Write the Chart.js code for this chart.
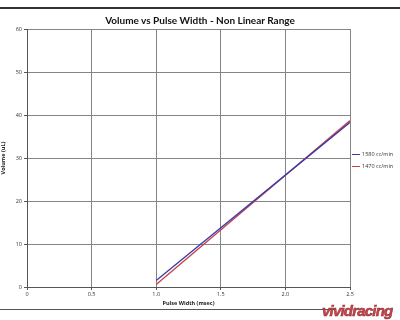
<!DOCTYPE html>
<html><head><meta charset="utf-8">
<script src="https://cdn.jsdelivr.net/npm/chart.js@4/dist/chart.umd.min.js"></script>
<style>
html,body{margin:0;padding:0;background:#fff;}
#wrap{position:relative;width:400px;height:320px;overflow:hidden;background:#fff;font-family:"Open Sans","Liberation Sans",sans-serif;}
#c{position:absolute;left:0;top:0;}
#title{position:absolute;left:0;top:14px;width:400px;text-align:center;font-weight:bold;font-size:10px;color:#111;font-family:Lato,"Open Sans",sans-serif;}
.rule{position:absolute;left:0;background:#333;}
#leg{position:absolute;left:352px;top:148px;font-size:5.5px;color:#333;line-height:12px;}
#leg span.l{display:inline-block;width:8px;height:1.5px;vertical-align:middle;margin-right:2px;}
#logo{position:absolute;left:322px;top:302px;font-size:15px;font-weight:bold;font-style:italic;color:#c8444a;letter-spacing:-0.8px;font-family:"Liberation Sans",sans-serif;-webkit-text-stroke:0.5px #8a2a30;}
</style></head>
<body><div id="wrap">
<canvas id="c" width="400" height="320"></canvas>
<div class="rule" style="top:7px;width:400px;height:1.5px;"></div>
<div class="rule" style="top:309px;width:335px;height:1px;background:#555;"></div>
<div id="title">Volume vs Pulse Width - Non Linear Range</div>
<div id="leg"></div>
<div id="logo">vividracing</div>
</div>
<script>
const seriesNames = ["1580 cc/min", "1470 cc/min"];
const seriesColors = ["#3a3aa8", "#c8404a"];
const pulseWidth = [1, 2.5];
const vol1580 = [1.5, 38.3];
const vol1470 = [0.6, 38.7];
const xTicks = [0, 0.5, 1, 1.5, 2, 2.5];
const yTicks = [0, 10, 20, 30, 40, 50, 60];

const leg = document.getElementById('leg');
seriesNames.forEach((n,i)=>{
  const d=document.createElement('div');
  d.innerHTML='<span class="l" style="background:'+seriesColors[i]+'"></span>'+n;
  leg.appendChild(d);
});

const mk = (vals)=>pulseWidth.map((x,i)=>({x:x,y:vals[i]}));
const tickFont = {family:"'Open Sans','Liberation Sans',sans-serif", size:5.5};
new Chart(document.getElementById('c'), {
  type:'line',
  data:{datasets:[
    {label:seriesNames[0], data:mk(vol1580), borderColor:seriesColors[0], borderWidth:1.3, pointRadius:0, tension:0},
    {label:seriesNames[1], data:mk(vol1470), borderColor:seriesColors[1], borderWidth:1.3, pointRadius:0, tension:0}
  ]},
  options:{
    responsive:false, animation:false,
    layout:{padding:{left:0,right:50,top:29,bottom:13}},
    plugins:{legend:{display:false}, title:{display:false}, tooltip:{enabled:false}},
    scales:{
      x:{type:'linear', min:0, max:2.5,
        afterBuildTicks:(s)=>{s.ticks=xTicks.map(v=>({value:v}));},
        afterFit:(s)=>{s.height=20;},
        ticks:{font:tickFont, color:'#333', padding:1, maxRotation:0},
        grid:{color:'#858585', lineWidth:1, tickLength:3, tickColor:'#555'},
        border:{color:'#555', width:1},
        title:{display:true, text:'Pulse Width (msec)', font:{...tickFont, weight:'bold'}, color:'#222', padding:{top:1,bottom:0}}
      },
      y:{type:'linear', min:0, max:60,
        afterBuildTicks:(s)=>{s.ticks=yTicks.map(v=>({value:v}));},
        afterFit:(s)=>{s.width=27;},
        ticks:{font:tickFont, color:'#333', padding:2},
        grid:{color:'#858585', lineWidth:1, tickLength:3, tickColor:'#555'},
        border:{color:'#555', width:1},
        title:{display:true, text:'Volume (uL)', font:{...tickFont, weight:'bold'}, color:'#222', padding:{top:0,bottom:2}}
      }
    }
  }
});
</script>
</body></html>
